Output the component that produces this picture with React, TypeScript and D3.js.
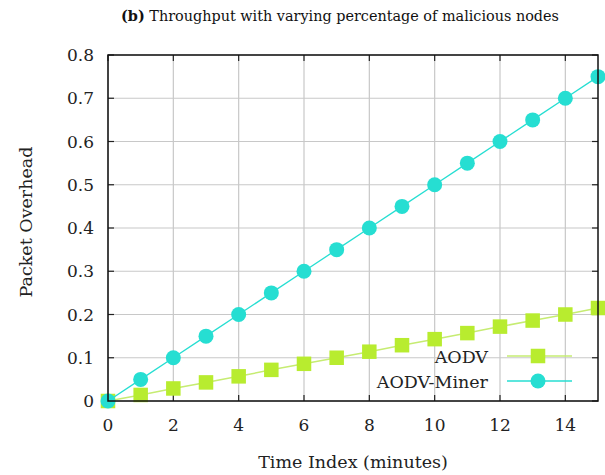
import React from "react";
import * as d3 from "d3";

const timeIndex = [0, 1, 2, 3, 4, 5, 6, 7, 8, 9, 10, 11, 12, 13, 14, 15];
const aodv = [0, 0.014, 0.029, 0.043, 0.057, 0.072, 0.086, 0.1, 0.114, 0.129, 0.143, 0.157, 0.172, 0.186, 0.2, 0.215];
const aodvMiner = [0, 0.05, 0.1, 0.15, 0.2, 0.25, 0.3, 0.35, 0.4, 0.45, 0.5, 0.55, 0.6, 0.65, 0.7, 0.75];
const xTicks = [0, 2, 4, 6, 8, 10, 12, 14];
const yTicks = [0, 0.1, 0.2, 0.3, 0.4, 0.5, 0.6, 0.7, 0.8];
const seriesNames = ["AODV", "AODV-Miner"];

const W = 605;
const H = 475;
const margin = { left: 108, right: 4, top: 55, bottom: 74 };

const AODV_FILL = "#b8ec2f";
const AODV_LINE = "#c6ec72";
const MINER = "#26ded2";
const FONT = "'DejaVu Serif', 'Liberation Serif', serif";

export default function App() {
  const x = d3.scaleLinear().domain([0, 15]).range([margin.left, W - margin.right - 3]);
  const y = d3.scaleLinear().domain([0, 0.8]).range([H - margin.bottom, margin.top]);
  const line = d3
    .line<number>()
    .x((_, i) => x(timeIndex[i]))
    .y((v) => y(v));

  const [x0, x1] = x.range();
  const [y0, y1] = y.range();
  const tick = 6;
  const sq = 14.5;

  const legendX1 = 507;
  const legendX2 = 572;
  const legendMid = 538;
  const legendY = [356, 381];

  return (
    <svg width={W} height={H} style={{ position: "absolute", left: 0, top: 0, background: "#fff" }}>
      <rect x={0} y={0} width={W} height={H} fill="#fff" />
      <text x={340} y={21} textAnchor="middle" fontFamily={FONT} fontSize={14.4} fill="#111">
        <tspan fontWeight="bold">(b)</tspan> Throughput with varying percentage of malicious nodes
      </text>

      {/* grid */}
      {xTicks.map((t) => (
        <line key={"gx" + t} x1={x(t)} x2={x(t)} y1={y0} y2={y1} stroke="#c8c8c8" strokeWidth={1.2} />
      ))}
      {yTicks.map((t) => (
        <line key={"gy" + t} x1={x0} x2={x1} y1={y(t)} y2={y(t)} stroke="#c8c8c8" strokeWidth={1.2} />
      ))}

      {/* ticks on all four sides */}
      {xTicks.map((t) => (
        <g key={"tx" + t} stroke="#222" strokeWidth={1.2}>
          <line x1={x(t)} x2={x(t)} y1={y0} y2={y0 - tick} />
          <line x1={x(t)} x2={x(t)} y1={y1} y2={y1 + tick} />
        </g>
      ))}
      {yTicks.map((t) => (
        <g key={"ty" + t} stroke="#222" strokeWidth={1.2}>
          <line x1={x0} x2={x0 + tick} y1={y(t)} y2={y(t)} />
          <line x1={x1} x2={x1 - tick} y1={y(t)} y2={y(t)} />
        </g>
      ))}

      {/* tick labels */}
      {xTicks.map((t) => (
        <text key={"lx" + t} x={x(t)} y={y0 + 30} textAnchor="middle" fontFamily={FONT} fontSize={17} fill="#222">
          {t}
        </text>
      ))}
      {yTicks.map((t) => (
        <text key={"ly" + t} x={x0 - 14} y={y(t) + 6} textAnchor="end" fontFamily={FONT} fontSize={17} fill="#222">
          {t === 0 ? "0" : t.toFixed(1)}
        </text>
      ))}

      <text x={353} y={468} textAnchor="middle" fontFamily={FONT} fontSize={17.5} fill="#222">
        Time Index (minutes)
      </text>
      <text
        transform={`translate(32, ${(y0 + y1) / 2 - 6}) rotate(-90)`}
        textAnchor="middle"
        fontFamily={FONT}
        fontSize={17.5}
        fill="#222"
      >
        Packet Overhead
      </text>

      {/* series */}
      <path d={line(aodv) ?? ""} fill="none" stroke={AODV_LINE} strokeWidth={1.5} />
      {aodv.map((v, i) => (
        <rect key={"a" + i} x={x(timeIndex[i]) - sq / 2} y={y(v) - sq / 2} width={sq} height={sq} fill={AODV_FILL} />
      ))}
      <path d={line(aodvMiner) ?? ""} fill="none" stroke={MINER} strokeWidth={1.3} />
      {aodvMiner.map((v, i) => (
        <circle key={"m" + i} cx={x(timeIndex[i])} cy={y(v)} r={7.5} fill={MINER} />
      ))}

      {/* legend */}
      <text x={488} y={legendY[0] + 7} textAnchor="end" fontFamily={FONT} fontSize={17.5} fill="#222">
        {seriesNames[0]}
      </text>
      <line x1={legendX1} x2={legendX2} y1={legendY[0]} y2={legendY[0]} stroke={AODV_LINE} strokeWidth={1.5} />
      <rect x={legendMid - sq / 2} y={legendY[0] - sq / 2} width={sq} height={sq} fill={AODV_FILL} />
      <text x={488} y={legendY[1] + 7} textAnchor="end" fontFamily={FONT} fontSize={17.5} fill="#222">
        {seriesNames[1]}
      </text>
      <line x1={legendX1} x2={legendX2} y1={legendY[1]} y2={legendY[1]} stroke={MINER} strokeWidth={1.3} />
      <circle cx={legendMid} cy={legendY[1]} r={7.5} fill={MINER} />

      {/* frame */}
      <rect x={x0} y={y1} width={x1 - x0} height={y0 - y1} fill="none" stroke="#111" strokeWidth={1.5} />
    </svg>
  );
}
